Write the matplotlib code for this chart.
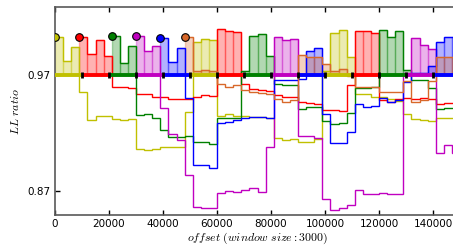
import numpy as np
import matplotlib
matplotlib.use("Agg")
import matplotlib.pyplot as plt

plt.rcParams['mathtext.fontset'] = 'cm'

win = 3000
nwin = 50
nan = np.nan

# LL ratio per window (NaN = series not started yet)
yellow = [1.003, 0.982, 0.9944, 0.9551, 0.9312, 0.9347, 0.9347, 0.9318, 0.9312, 0.932,
          0.906, 0.9053, 0.906, 0.9082, 0.9082, 0.9082, 0.9384, 0.998, 1.001, 1.000,
          0.9347, 0.9361, 0.9347, 0.935, 0.934, 0.934, 0.933, 0.916, 0.914, 0.9146,
          0.9125, 0.9125, 0.9146, 0.973, 1.006, 1.0088, 0.9853, 0.9534, 0.9534, 0.9513,
          0.951, 0.949, 0.9476, 0.9364, 0.932, 0.931, 0.9306, 0.9332, 0.9332, 0.9332]
red = [nan, nan, nan, 1.003, 0.9878, 1.0002, 0.9864, 0.960, 0.960, 0.959,
       0.9534, 0.9534, 0.9513, 0.9513, 0.9493, 0.9493, 0.9493, 0.9513, 0.9528, 0.952,
       1.0094, 1.0082, 1.0073, 0.962, 0.9575, 0.957, 0.9565, 0.9528, 0.9513, 0.9506,
       0.9465, 0.946, 0.945, 0.940, 0.9398, 0.9392, 0.9614, 1.0079, 1.0079, 1.006,
       0.9487, 0.9465, 0.949, 0.950, 0.9497, 0.950, 0.9495, 0.945, 0.9456, 0.9456]
green = [nan] * 7 + [1.0039, 0.980, 0.9953,
         0.9355, 0.9364, 0.933, 0.9226, 0.9163, 0.9163, 0.9177, 0.9125, 0.9125, 0.9105,
         0.9327, 0.9327, 0.9327, 0.9737, 1.004, 1.005, 0.9864, 0.962, 0.9614, 0.9614,
         0.9404, 0.9421, 0.9421, 0.930, 0.928, 0.9285, 0.937, 0.9588, 0.959, 0.9595,
         1.0088, 1.003, 1.0079, 0.9743, 0.9657, 0.9657, 0.9585, 0.9404, 0.9413, 0.9413]
magenta = [nan] * 10 + [1.004, 0.9907, 0.9953, 0.9413, 0.9189, 0.914, 0.8838, 0.8565, 0.8556, 0.8556,
           0.868, 0.870, 0.869, 0.8709, 0.8723, 0.8694, 0.9077, 1.0025, 1.000, 1.0008,
           0.9177, 0.9177, 0.9154, 0.8629, 0.8536, 0.855, 0.858, 0.8709, 0.8672, 0.8672,
           0.8685, 0.8672, 0.8676, 0.9715, 1.002, 0.9959, 0.9922, 0.903, 0.9097, 0.903]
blue = [nan] * 13 + [1.002, 0.981, 0.9935, 0.9505, 0.8924, 0.8924, 0.8896,
        0.9284, 0.9298, 0.9312, 0.9327, 0.9335, 0.9335, 0.933, 0.9657, 0.9657, 0.9657,
        0.9666, 0.991, 0.993, 0.9364, 0.9111, 0.9111, 0.9211, 0.9447, 0.9422, 0.9436,
        0.950, 0.9465, 0.9485, 0.9642, 0.9715, 0.9715, 0.978, 0.998, 1.0025, 1.0025]
orange = [nan] * 16 + [1.0025, 0.9734, 0.974, 0.9734,
          0.9622, 0.960, 0.9614, 0.957, 0.955, 0.9545, 0.954, 0.949, 0.947, 0.9485,
          0.9872, 0.9858, 0.9858, 0.9792, 0.9734, 0.9749, 0.969, 0.960, 0.960, 0.9594,
          0.9555, 0.9555, 0.9555, 0.965, 0.947, 0.9485, 0.965, 0.9858, 0.9858, 0.9858]

series = [yellow, red, green, magenta, blue, orange]
colors = ['#c0c000', '#ff0000', '#008000', '#c000c0', '#0000ff', '#d8682a']

# true segment labels along the baseline (every 10000)
seg_len = 10000
seg_colors = ['#c0c000', '#ff0000', '#008000', '#c000c0', '#0000ff']
base = 0.97

fig = plt.figure(figsize=(4.53, 2.47), dpi=100)
ax = fig.add_axes([55 / 453, 32 / 247, 405 / 453, 208 / 247])

edges = np.arange(nwin + 1) * win
for vals, c in zip(series, colors):
    v = np.array(vals, dtype=float)
    start = int(np.argmax(~np.isnan(v)))
    v = v[start:]
    x = edges[start:-1]
    above = v > base
    ax.bar(x[above], v[above] - base, bottom=base, width=win, align='edge',
           color=c, alpha=0.3, edgecolor=c, linewidth=1.0, zorder=1)
    ax.stairs(v, edges[start:], baseline=None, color=c, lw=1.0, zorder=3)
    ax.plot([edges[start]], [v[0]], 'o', ms=5.5, mfc=c, mec='k', mew=0.8, zorder=6)

for k in range(15):
    ax.plot([k * seg_len, (k + 1) * seg_len], [base, base], color=seg_colors[k % 5],
            lw=2.8, solid_capstyle='butt', zorder=4)
ax.plot(np.arange(1, 15) * seg_len, [base] * 14, '|', color='k', ms=4.5, mew=2.0, zorder=5)

ax.set_xlim(0, 150000)
ax.set_ylim(0.8493, 1.0286)
ax.set_xticks(np.arange(0, 150000, 20000))
ax.set_yticks([0.87, 0.97])
ax.set_yticklabels(['0.87', '0.97'])
ax.tick_params(direction='in', top=True, labelsize=7.5, length=3.5, width=1, pad=3)
for s in ax.spines.values():
    s.set_color('0.35')
    s.set_linewidth(1.2)
ax.set_xlabel(r'$offset\ (window\ size: 3000)$', fontsize=8.5, labelpad=1)
ax.set_ylabel(r'$LL\ ratio$', fontsize=8.5, labelpad=4)

fig.savefig('out.png', dpi=100)
